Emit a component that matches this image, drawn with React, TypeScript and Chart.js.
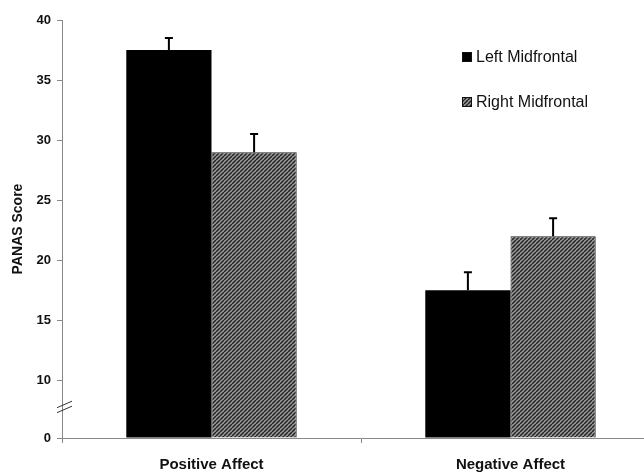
import React, { useEffect, useRef } from "react";
import { Chart, registerables } from "chart.js";

Chart.register(...registerables);

const categories = ["Positive Affect", "Negative Affect"];
const seriesNames = ["Left Midfrontal", "Right Midfrontal"];
const leftValues = [37.5, 17.5];
const rightValues = [29, 22];
const leftErrors = [1, 1.5];
const rightErrors = [1.5, 1.5];
const yTickValues = [0, 10, 15, 20, 25, 30, 35, 40];
const BREAK_AT = 10;
const BREAK_FACTOR = 0.48;

const toAxis = (v: number) => (v <= BREAK_AT ? v * BREAK_FACTOR : BREAK_AT * BREAK_FACTOR + (v - BREAK_AT));

function makeHatch(): CanvasPattern | string {
  const c = document.createElement("canvas");
  c.width = 4;
  c.height = 4;
  const g = c.getContext("2d");
  if (!g) return "#666";
  g.fillStyle = "#999999";
  g.fillRect(0, 0, 4, 4);
  g.strokeStyle = "#222222";
  g.lineWidth = 1.4;
  for (const i of [-4, 0, 4]) {
    g.beginPath();
    g.moveTo(i, 4);
    g.lineTo(i + 4, 0);
    g.stroke();
  }
  return g.createPattern(c, "repeat") || "#666";
}

const FONT = "'Liberation Sans', Arial, sans-serif";

export default function App() {
  const ref = useRef<HTMLCanvasElement | null>(null);

  useEffect(() => {
    if (!ref.current) return;
    const hatch = makeHatch();
    const errors = [leftErrors, rightErrors];
    const raw = [leftValues, rightValues];

    const errorBars = {
      id: "errorBars",
      afterDatasetsDraw(chart: any) {
        const ctx = chart.ctx;
        const y = chart.scales.y;
        ctx.save();
        ctx.strokeStyle = "#000";
        ctx.lineWidth = 2;
        chart.data.datasets.forEach((_: any, di: number) => {
          const meta = chart.getDatasetMeta(di);
          meta.data.forEach((el: any, i: number) => {
            const top = y.getPixelForValue(toAxis(raw[di][i] + errors[di][i]));
            ctx.beginPath();
            ctx.moveTo(el.x, el.y);
            ctx.lineTo(el.x, top);
            ctx.moveTo(el.x - 4, top);
            ctx.lineTo(el.x + 4, top);
            ctx.stroke();
          });
        });
        ctx.restore();
      },
    };

    const decorations = {
      id: "decorations",
      afterDraw(chart: any) {
        const ctx = chart.ctx;
        const y = chart.scales.y;
        const ax = chart.chartArea.left;
        const p0 = y.getPixelForValue(toAxis(0));
        const p10 = y.getPixelForValue(toAxis(BREAK_AT));
        const mid = (p0 + p10) / 2;
        ctx.save();
        ctx.strokeStyle = "#333";
        ctx.lineWidth = 1;
        for (const off of [-5, 0]) {
          ctx.beginPath();
          ctx.moveTo(ax - 5, mid + off + 3.5);
          ctx.lineTo(ax + 10, mid + off - 3);
          ctx.stroke();
        }
        // legend
        const fills = [chart.data.datasets[0].backgroundColor, chart.data.datasets[1].backgroundColor];
        const rows = [57, 102];
        ctx.font = `16px ${FONT}`;
        ctx.textBaseline = "middle";
        ctx.textAlign = "left";
        chart.data.datasets.forEach((ds: any, i: number) => {
          ctx.fillStyle = fills[i];
          ctx.fillRect(462, rows[i] - 5, 10, 10);
          ctx.strokeStyle = "#111";
          ctx.lineWidth = 1;
          ctx.strokeRect(462.5, rows[i] - 4.5, 9, 9);
          ctx.fillStyle = "#111";
          ctx.fillText(ds.label, 476, rows[i] + 1);
        });
        ctx.restore();
      },
    };

    const chart = new Chart(ref.current, {
      type: "bar",
      data: {
        labels: categories,
        datasets: [
          {
            label: seriesNames[0],
            data: leftValues.map(toAxis),
            backgroundColor: "#000",
            borderColor: "#000",
            borderWidth: 0,
          },
          {
            label: seriesNames[1],
            data: rightValues.map(toAxis),
            backgroundColor: hatch as any,
            borderColor: "#222",
            borderWidth: 1,
          },
        ],
      },
      options: {
        animation: false,
        responsive: false,
        layout: { padding: { top: 20, left: 0, right: 0, bottom: 0 } },
        datasets: { bar: { categoryPercentage: 0.57, barPercentage: 1 } },
        plugins: { legend: { display: false }, tooltip: { enabled: false } },
        scales: {
          x: {
            grid: { display: true, drawOnChartArea: false, tickLength: 5, color: "#888", offset: true },
            border: { display: true, color: "#888", width: 1 },
            ticks: { color: "#111", font: { family: FONT, size: 15, weight: "bold" }, padding: 13 },
            afterFit(scale: any) {
              scale.height = 35;
            },
          },
          y: {
            min: 0,
            max: toAxis(40),
            grid: { display: true, drawOnChartArea: false, tickLength: 5, color: "#888" },
            border: { display: true, color: "#888", width: 1 },
            afterBuildTicks(scale: any) {
              scale.ticks = yTickValues.map((v) => ({ value: toAxis(v) }));
            },
            ticks: {
              color: "#111",
              padding: 6,
              font: { family: FONT, size: 13, weight: "bold" },
              callback: (_v: any, i: number) => String(yTickValues[i]),
            },
            title: {
              display: true,
              text: "PANAS Score",
              color: "#111",
              font: { family: FONT, size: 14, weight: "bold" },
              padding: { top: 10, bottom: 0 },
            },
            afterFit(scale: any) {
              scale.width = 62;
            },
          },
        },
      },
      plugins: [errorBars, decorations],
    });
    return () => chart.destroy();
  }, []);

  return (
    <div style={{ position: "absolute", left: 0, top: 0, width: 644, height: 473, overflow: "hidden", background: "#fff" }}>
      <canvas ref={ref} width={660} height={473} style={{ width: 660, height: 473, display: "block" }} />
    </div>
  );
}
